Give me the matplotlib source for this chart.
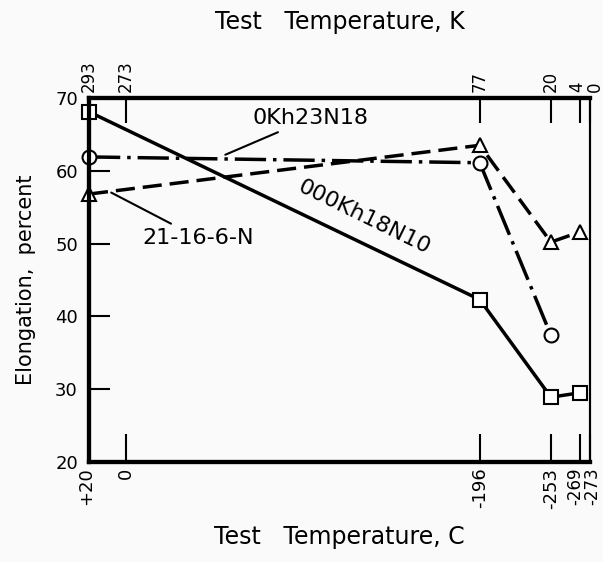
import matplotlib
matplotlib.use("Agg")
import matplotlib.pyplot as plt
from matplotlib.transforms import ScaledTranslation
import numpy as np

# tick temperatures (C and matching K)
tick_c = [20, 0, -196, -253, -269, -273]
tick_c_labels = ["+20", "0", "-196", "-253", "-269", "-273"]
tick_k_labels = ["293", "273", "77", "20", "4", "0"]

# data (elongation, percent)
sq_t = [20, -196, -253, -269]
sq_y = [68.1, 42.3, 28.9, 29.5]          # 000Kh18N10
ci_t = [20, -196, -253]
ci_y = [61.9, 61.1, 37.4]                # 0Kh23N18
tr_t = [20, -196, -253, -269]
tr_y = [56.8, 63.5, 50.2, 51.6]          # 21-16-6-N

# the original temperature axis is not linear: piecewise scale through tick spots
frac_from_left = [0.0, 0.074, 0.780, 0.922, 0.980, 1.0]
c_inc = np.array(tick_c[::-1], dtype=float)
p_inc = 1.0 - np.array(frac_from_left[::-1])

def fwd(x):
    return np.interp(x, c_inc, p_inc)

def inv(p):
    return np.interp(p, p_inc, c_inc)

def nudge(label, px):
    label.set_transform(label.get_transform() + ScaledTranslation(px / 100, 0, fig.dpi_scale_trans))

plt.rcParams['font.family'] = ['DejaVu Sans']
bg = '#fafafa'
fig = plt.figure(figsize=(6.03, 5.62), dpi=100, facecolor=bg)
ax = fig.add_axes([0.1476, 0.178, 0.8308, 0.6477], facecolor=bg)
ax.set_xscale('function', functions=(fwd, inv))
ax.set_xlim(20, -273)
ax.set_ylim(20, 70)

lw = 2.5
ax.plot(sq_t, sq_y, color='black', lw=lw, marker='s', ms=10, mfc='white', mec='black',
        mew=1.5, clip_on=False, zorder=3)
ax.plot(ci_t, ci_y, color='black', lw=lw, ls=(0, (9, 2, 1, 2)), marker='o', ms=10,
        mfc='white', mec='black', mew=1.5, clip_on=False, zorder=3)
ax.plot(tr_t, tr_y, color='black', lw=lw, ls=(0, (5.5, 2.3)), marker='^', ms=10,
        mfc='white', mec='black', mew=1.5, clip_on=False, zorder=3)

ax.set_xticks(tick_c)
ax.set_xticklabels(tick_c_labels, rotation=90, fontsize=13)
ax.set_yticks([20, 30, 40, 50, 60, 70])
ax.tick_params(axis='y', direction='in', length=15, width=1.5, labelsize=13, pad=8)
ax.tick_params(axis='x', direction='in', length=20, width=1.5, pad=4)

top = ax.twiny()
top.set_xscale('function', functions=(fwd, inv))
top.set_xlim(20, -273)
top.set_xticks(tick_c)
top.set_xticklabels(tick_k_labels, rotation=90, fontsize=12)
top.tick_params(axis='x', direction='in', length=18, width=1.5, pad=4)

# the last two labels sit close together; nudge them apart a little
bl = ax.get_xticklabels()
nudge(bl[0], -3)
bl[-2].set_fontsize(12)
bl[-1].set_fontsize(12)
nudge(bl[-2], -5)
nudge(bl[-1], 2)
tl = top.get_xticklabels()
nudge(tl[-2], -3)
nudge(tl[-1], 5)

for a in (ax, top):
    for side in ('left', 'top', 'bottom'):
        a.spines[side].set_linewidth(3)
    a.spines['right'].set_linewidth(1.5)

ax.set_xlabel("Test   Temperature, C", fontsize=17, labelpad=12)
top.set_xlabel("Test   Temperature, K", fontsize=17, labelpad=23)
ax.set_ylabel("Elongation,  percent", fontsize=15, labelpad=14)

ax.annotate("0Kh23N18", xy=(-55, 62.2), xytext=(-70, 67.2), fontsize=16,
            va='center', ha='left',
            arrowprops=dict(arrowstyle='-', color='black', lw=1.5, shrinkA=2, shrinkB=0))
ax.annotate("21-16-6-N", xy=(8, 57.0), xytext=(-9, 50.8), fontsize=16,
            va='center', ha='left',
            arrowprops=dict(arrowstyle='-', color='black', lw=1.5, shrinkA=2, shrinkB=0))
ax.text(-132, 53.6, "000Kh18N10", fontsize=16, rotation=-26, ha='center', va='center')

fig.savefig("out.png", dpi=100, facecolor=bg)
